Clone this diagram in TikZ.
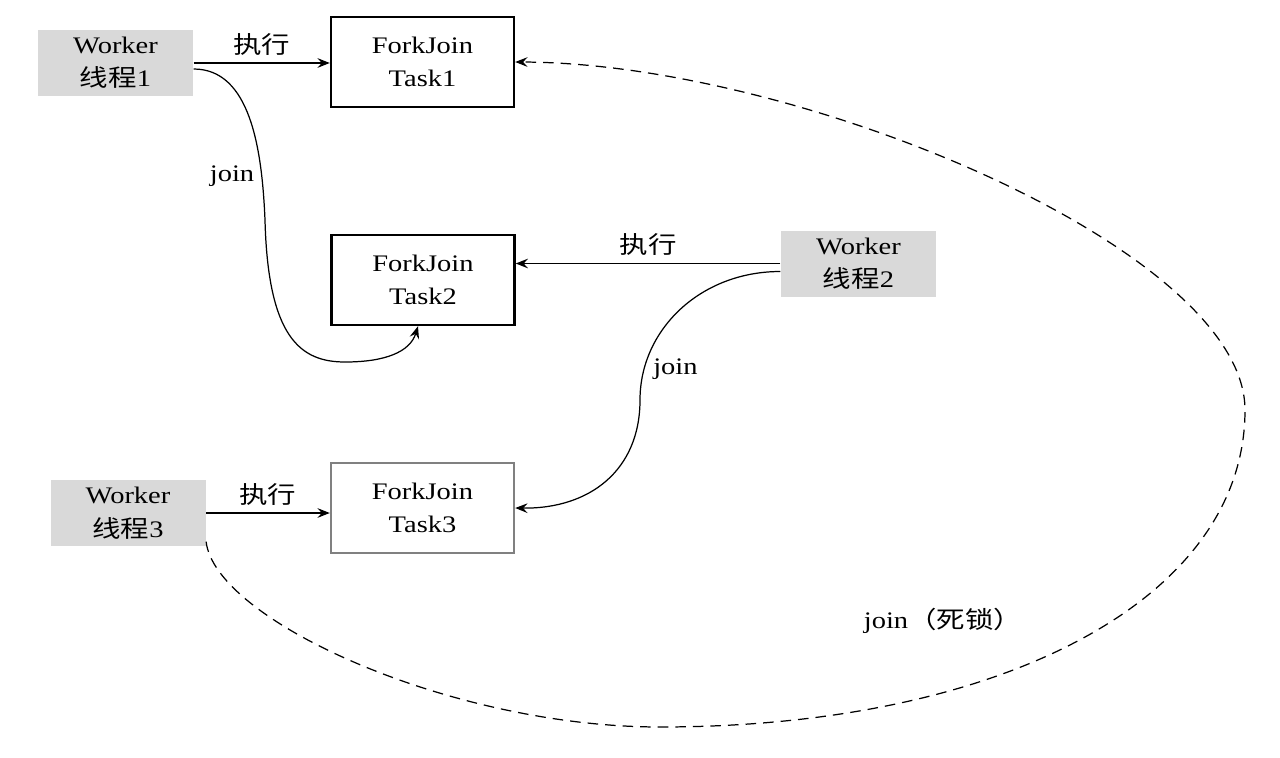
\documentclass[tikz,border=0pt]{standalone}
\usepackage{fontspec}
\setmainfont{Liberation Serif}[FakeStretch=1.2]
\newfontfamily\cjk{Noto Sans CJK SC}[FakeStretch=1.2]
\usepackage{tikz}
\usetikzlibrary{arrows.meta}

\tikzset{
	worker/.style={fill=gray!30,minimum width=3.1cm,minimum height=1.32cm,align=center,inner sep=0pt},
	task/.style={draw,line width=1.4pt,minimum width=3.66cm,minimum height=1.8cm,align=center,inner sep=0pt},
	lbl/.style={inner sep=1pt}
}

\begin{document}
\begin{tikzpicture}[>={Stealth[length=7pt,width=5.5pt,inset=2.5pt]},font=\fontsize{13.5}{19}\selectfont,line width=0.7pt]
		\useasboundingbox (0,0) rectangle (25.6,15.14);
		\node[worker] (W1) at (2.31,13.88) {Worker\\{\cjk 线程}1};
		\node[worker] (W2) at (17.17,9.87) {Worker\\{\cjk 线程}2};
		\node[worker] (W3) at (2.56,4.88) {Worker\\{\cjk 线程}3};
		\node[task] (T1) at (8.45,13.9) {ForkJoin\\Task1};
		\node[task] (T2) at (8.46,9.54) {ForkJoin\\Task2};
		\node[task,draw=gray] (T3) at (8.45,4.98) {ForkJoin\\Task3};
		%execute
		\draw[->] (W1.east) -- (W1.east -| T1.west) node[lbl,midway,above=3pt]{\cjk 执行};
		\draw[->] (W2.west) -- (W2.west -| T2.east) node[lbl,midway,above=3pt]{\cjk 执行};
		\draw[->] (W3.east) -- (W3.east -| T3.west) node[lbl,midway,above=3pt]{\cjk 执行};
		%join
		\draw[->] ([yshift=-0.12cm]W1.east) .. controls (5.0,13.76) and (5.24,12.18) .. (5.3,10.74) node[lbl,pos=0.8,left=3pt]{join}
			.. controls (5.36,8.4) and (6.0,7.9) .. (6.9,7.9) .. controls (7.7,7.9) and (8.2,8.1) .. ([xshift=-0.1cm]T2.south);
		\draw[->] ([yshift=-0.16cm]W2.west) .. controls (14.0,9.71) and (12.8,8.54) .. (12.8,7.14) node[lbl,pos=0.85,right=4pt]{join}
			.. controls (12.8,5.74) and (11.8,4.96) .. (T3.east);
		%deadlock
		\draw[->,dashed,dash pattern=on 6pt off 4pt] ([yshift=0.1cm]W3.south east) .. controls (4.3,2.74) and (9.0,0.6) .. (13.2,0.6)
			.. controls (20.0,0.6) and (24.9,3.14) .. (24.9,6.94)
			.. controls (24.9,10.14) and (16.0,13.88) .. (T1.east);
		\node[lbl] (dl) at (18.86,2.72) {join{\cjk （死锁）}};
\end{tikzpicture}
\end{document}
